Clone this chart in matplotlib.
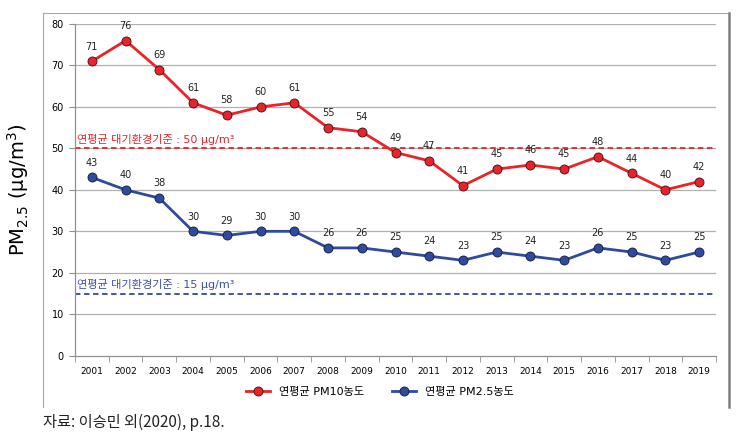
import numpy as np
import matplotlib
matplotlib.use("Agg")
import matplotlib.pyplot as plt
from matplotlib.lines import Line2D

plt.rcParams['font.family'] = ['DejaVu Sans', 'Noto Sans CJK KR']

years = [str(y) for y in range(2001, 2020)]
pm10 = [71, 76, 69, 61, 58, 60, 61, 55, 54, 49, 47, 41, 45, 46, 45, 48, 44, 40, 42]
pm25 = [43, 40, 38, 30, 29, 30, 30, 26, 26, 25, 24, 23, 25, 24, 23, 26, 25, 23, 25]
std_pm10 = 50
std_pm25 = 15
yticks = [0, 10, 20, 30, 40, 50, 60, 70, 80]

red = '#E8242A'
blue = '#2F4A9E'

W, H = 743, 441
fig = plt.figure(figsize=(W / 100, H / 100), dpi=100)
ax = fig.add_axes([75 / W, 1 - 355.7 / H, (716 - 75) / W, (355.7 - 24) / H])

x = np.arange(len(years))
ax.set_xlim(-0.5, len(years) - 0.5)
ax.set_ylim(0, 80)

for v in yticks[1:]:
    ax.axhline(v, color='#b0b0b0', lw=0.9, zorder=0)

ax.axhline(std_pm10, color=red, lw=1.3, ls=(0, (3, 2)), zorder=1)
ax.axhline(std_pm25, color=blue, lw=1.3, ls=(0, (3, 2)), zorder=1)
ax.text(0.003, std_pm10 + 0.8, '연평균 대기환경기준 : 50 μg/m³', color=red,
        fontsize=8, transform=ax.get_yaxis_transform(), va='bottom', ha='left')
ax.text(0.003, std_pm25 + 0.8, '연평균 대기환경기준 : 15 μg/m³', color='#3b4fa8',
        fontsize=8, transform=ax.get_yaxis_transform(), va='bottom', ha='left')

ax.plot(x, pm10, color=red, lw=2.0, marker='o', ms=6.5, mfc=red, mec='#3a1010',
        mew=0.6, label='연평균 PM10농도', zorder=3, clip_on=False)
ax.plot(x, pm25, color=blue, lw=2.0, marker='o', ms=6.5, mfc=blue, mec='#101a40',
        mew=0.6, label='연평균 PM2.5농도', zorder=3, clip_on=False)

for i in x:
    ax.annotate(str(pm10[i]), (i, pm10[i]), xytext=(0, 7), textcoords='offset points',
                ha='center', va='bottom', fontsize=7, color='#222222')
    ax.annotate(str(pm25[i]), (i, pm25[i]), xytext=(0, 7), textcoords='offset points',
                ha='center', va='bottom', fontsize=7, color='#222222')

ax.set_yticks(yticks)
ax.set_xticks(x)
ax.set_xticklabels(years)
ax.set_xticks(np.arange(-0.5, len(years)), minor=True)
ax.tick_params(axis='x', which='major', length=0, labelsize=6.5, pad=8)
ax.tick_params(axis='x', which='minor', length=4, color='#909090')
ax.tick_params(axis='y', length=4, color='#909090', labelsize=7, pad=4)
for s in ['top', 'right']:
    ax.spines[s].set_visible(False)
for s in ['left', 'bottom']:
    ax.spines[s].set_color('#909090')
    ax.spines[s].set_linewidth(0.9)

ax.legend(loc='center', bbox_to_anchor=(380 / W, 1 - 392 / H), bbox_transform=fig.transFigure,
          ncol=2, frameon=False, fontsize=8, handlelength=2.2, columnspacing=2.5)

fig.text(18 / W, 1 - 190 / H, 'PM$_{2.5}$ (μg/m$^3$)', rotation=90, ha='center', va='center',
         fontsize=14)

# outer frame
fig.add_artist(Line2D([43 / W, 43 / W], [1 - 13 / H, 1 - 407 / H], color='#a8a8a8', lw=0.8,
                      transform=fig.transFigure))
fig.add_artist(Line2D([43 / W, 729 / W], [1 - 13 / H, 1 - 13 / H], color='#a8a8a8', lw=0.8,
                      transform=fig.transFigure))
fig.add_artist(Line2D([729 / W, 729 / W], [1 - 13 / H, 1 - 407 / H], color='#808080', lw=1.8,
                      transform=fig.transFigure))

fig.text(43 / W, 1 - 422 / H, '자료: 이승민 외(2020), p.18.', fontsize=11,
         family=['Noto Sans CJK KR'], va='center', ha='left', color='#222222')

fig.savefig('out.png', dpi=100)
